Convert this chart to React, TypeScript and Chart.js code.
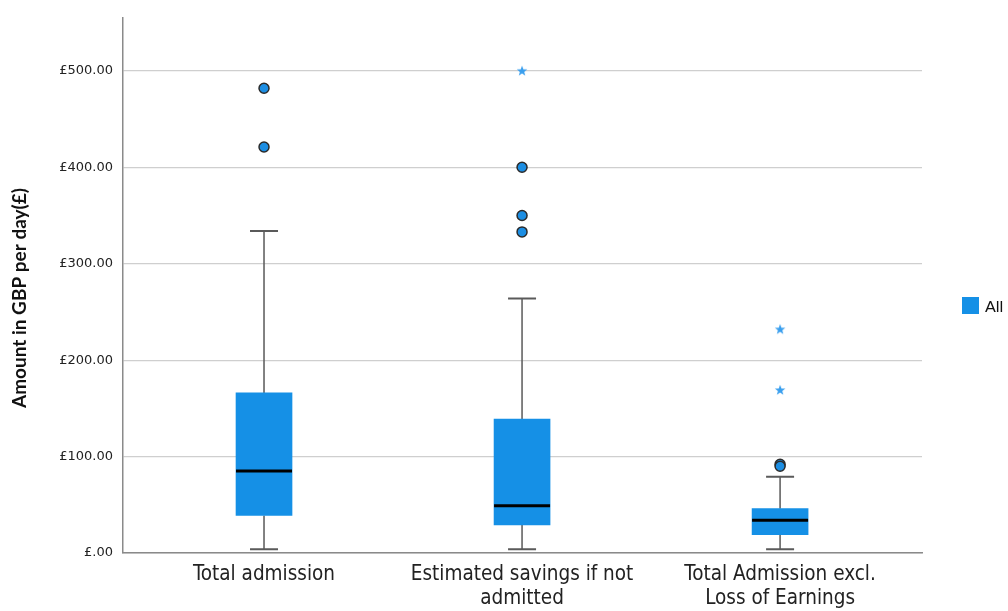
import React, { useEffect, useRef } from "react";
import { Chart, registerables } from "chart.js";

Chart.register(...registerables);

const categories: string[][] = [
  ["Total admission"],
  ["Estimated savings if not", "admitted"],
  ["Total Admission excl.", "Loss of Earnings"],
];
const whiskerLow = [4, 4, 4];
const q1 = [39, 29, 19];
const median = [85, 49, 34];
const q3 = [166, 139, 46];
const whiskerHigh = [334, 264, 79];
// outliers: [category index (1-based), value]
const circleOutliers: [number, number][] = [
  [1, 482],
  [1, 421],
  [2, 400],
  [2, 350],
  [2, 333],
  [3, 92],
  [3, 90],
];
const extremeOutliers: [number, number][] = [
  [2, 500],
  [3, 232],
  [3, 169],
];
const yTicks = [0, 100, 200, 300, 400, 500];
const legendLabel = "All";
const yTitle = "Amount in GBP per day(£)";

const BOX_COLOR = "#1590e6";

function makeStar(): HTMLCanvasElement {
  const c = document.createElement("canvas");
  c.width = 12;
  c.height = 12;
  const g = c.getContext("2d")!;
  g.fillStyle = "#3a9fee";
  g.beginPath();
  const cx = 6, cy = 6.3, R = 5.5, r = 2.3;
  for (let i = 0; i < 10; i++) {
    const a = -Math.PI / 2 + (i * Math.PI) / 5;
    const rad = i % 2 === 0 ? R : r;
    const x = cx + rad * Math.cos(a);
    const y = cy + rad * Math.sin(a);
    if (i === 0) g.moveTo(x, y);
    else g.lineTo(x, y);
  }
  g.closePath();
  g.fill();
  return c;
}

const boxPlugin = {
  id: "boxParts",
  beforeDatasetsDraw(chart: any) {
    const { ctx, scales } = chart;
    const xs = scales.x, ys = scales.y;
    ctx.save();
    ctx.strokeStyle = "#5a5a5a";
    for (let i = 0; i < q1.length; i++) {
      const x = xs.getPixelForValue(i + 1);
      const capHalf = 14;
      ctx.lineWidth = 1.5;
      ctx.beginPath();
      ctx.moveTo(x, ys.getPixelForValue(whiskerHigh[i]));
      ctx.lineTo(x, ys.getPixelForValue(q3[i]));
      ctx.moveTo(x, ys.getPixelForValue(q1[i]));
      ctx.lineTo(x, ys.getPixelForValue(whiskerLow[i]));
      ctx.stroke();
      ctx.lineWidth = 2;
      ctx.beginPath();
      const yh = ys.getPixelForValue(whiskerHigh[i]);
      const yl = ys.getPixelForValue(whiskerLow[i]);
      ctx.moveTo(x - capHalf, yh);
      ctx.lineTo(x + capHalf, yh);
      ctx.moveTo(x - capHalf, yl);
      ctx.lineTo(x + capHalf, yl);
      ctx.stroke();
    }
    ctx.restore();
  },
  afterDatasetDraw(chart: any, args: any) {
    if (args.index !== 0) return;
    const { ctx, scales } = chart;
    const xs = scales.x, ys = scales.y;
    ctx.save();
    ctx.strokeStyle = "#000";
    ctx.lineWidth = 3;
    for (let i = 0; i < median.length; i++) {
      const x = xs.getPixelForValue(i + 1);
      const y = ys.getPixelForValue(median[i]);
      ctx.beginPath();
      ctx.moveTo(x - 28, y);
      ctx.lineTo(x + 28, y);
      ctx.stroke();
    }
    ctx.restore();
  },
  afterDraw(chart: any) {
    const { ctx } = chart;
    ctx.save();
    ctx.translate(20, 298);
    ctx.rotate(-Math.PI / 2);
    ctx.font = "bold 19px Lato, 'Open Sans', sans-serif";
    ctx.fillStyle = "#111";
    ctx.textAlign = "center";
    ctx.textBaseline = "middle";
    ctx.fillText(yTitle, 0, 0);
    ctx.restore();
  },
};

export default function App() {
  const ref = useRef<HTMLCanvasElement>(null);
  useEffect(() => {
    if (!ref.current) return;
    const star = makeStar();
    const chart = new Chart(ref.current, {
      type: "bar",
      data: {
        datasets: [
          {
            type: "bar",
            label: legendLabel,
            data: q1.map((v, i) => ({ x: i + 1, y: [v, q3[i]] })) as any,
            backgroundColor: BOX_COLOR,
            borderWidth: 0,
            barThickness: 56,
          } as any,
          {
            type: "scatter",
            label: "outliers",
            data: circleOutliers.map(([c, v]) => ({ x: c, y: v })),
            pointStyle: "circle",
            pointRadius: 5,
            backgroundColor: "#1c8ee3",
            borderColor: "#2b2b2b",
            borderWidth: 1.5,
          } as any,
          {
            type: "scatter",
            label: "extremes",
            data: extremeOutliers.map(([c, v]) => ({ x: c, y: v })),
            pointStyle: star,
            pointRadius: 6,
          } as any,
        ],
      },
      options: {
        responsive: false,
        animation: false,
        devicePixelRatio: 1,
        layout: { padding: { top: 10, right: 86, left: 0, bottom: 0 } },
        plugins: { legend: { display: false }, tooltip: { enabled: false } },
        scales: {
          x: {
            type: "linear",
            min: 0.4535,
            max: 3.55,
            offset: false,
            bounds: "data",
            grid: { display: false, drawTicks: false, offset: false },
            border: { display: true, color: "#8a8a8a", width: 1.5 },
            afterBuildTicks: (s: any) => {
              s.ticks = categories.map((_, i) => ({ value: i + 1 }));
            },
            afterFit: (s: any) => {
              s.height = 58;
            },
            ticks: {
              autoSkip: false,
              maxRotation: 0,
              padding: 9,
              color: "#222",
              font: { family: "'Liberation Sans Narrow', 'DejaVu Sans Condensed', sans-serif", size: 20.5, lineHeight: 1.2 },
              callback: (v: any) => categories[Math.round(v) - 1] ?? "",
            },
          } as any,
          y: {
            type: "linear",
            min: 0,
            max: 555,
            grid: { color: "#cfcfcf", lineWidth: 1.2, drawTicks: false },
            border: { display: true, color: "#8a8a8a", width: 1.5 },
            afterBuildTicks: (s: any) => {
              s.ticks = yTicks.map((v) => ({ value: v }));
            },
            afterFit: (s: any) => {
              s.width = 123;
            },
            ticks: {
              padding: 10,
              color: "#222",
              font: { family: "'DejaVu Sans', sans-serif", size: 13 },
              callback: (v: any) => (v === 0 ? "£.00" : "£" + Number(v).toFixed(2)),
            },
          },
        },
      },
      plugins: [boxPlugin],
    });
    return () => chart.destroy();
  }, []);
  return (
    <div style={{ position: "absolute", left: 0, top: 0, width: 1008, height: 611, background: "#fff" }}>
      <canvas ref={ref} width={1008} height={611} style={{ display: "block" }} />
      <div
        style={{
          position: "absolute",
          left: 962,
          top: 296,
          display: "flex",
          alignItems: "center",
          fontFamily: "Lato, sans-serif",
          fontSize: 16,
          color: "#111",
        }}
      >
        <span style={{ display: "inline-block", width: 17, height: 17, background: BOX_COLOR, marginRight: 6 }} />
        <span>{legendLabel}</span>
      </div>
    </div>
  );
}
